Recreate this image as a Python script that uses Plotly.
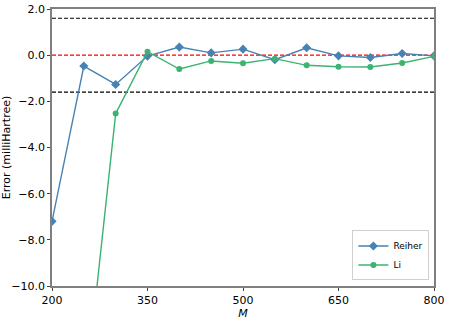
import plotly.graph_objects as go

M = [200, 250, 300, 350, 400, 450, 500, 550, 600, 650, 700, 750, 800]
reiher = [-7.2, -0.47, -1.27, -0.04, 0.35, 0.1, 0.26, -0.2, 0.32, -0.03, -0.1, 0.07, -0.03]
li = [-28.0, -15.3, -2.53, 0.15, -0.6, -0.25, -0.35, -0.15, -0.44, -0.5, -0.51, -0.34, -0.05]

chem_acc = 1.6

fig = go.Figure()

# reference lines
for yv, col in [(chem_acc, "black"), (-chem_acc, "black"), (0, "red")]:
    fig.add_shape(type="line", xref="paper", x0=0, x1=1, y0=yv, y1=yv,
                  line=dict(color=col, width=1.2, dash="4px,2px"), layer="below")

fig.add_trace(go.Scatter(
    x=M, y=reiher, mode="lines+markers", name="Reiher",
    line=dict(color="#4682b4", width=1.4),
    marker=dict(symbol="diamond", size=7, color="#4682b4")
))
fig.add_trace(go.Scatter(
    x=M, y=li, mode="lines+markers", name="Li",
    line=dict(color="#3cb371", width=1.4),
    marker=dict(symbol="circle", size=6, color="#3cb371")
))

axis_common = dict(
    showgrid=False, zeroline=False, showline=True, mirror=True, automargin=False,
    linecolor="#808080", linewidth=1.5, ticks="outside", ticklen=3,
    tickcolor="#404040", tickfont=dict(size=11, color="black"),
)

fig.update_xaxes(range=[200, 800], tickvals=[200, 350, 500, 650, 800],
                 title=dict(text="<i>M</i>", standoff=0, font=dict(size=11)),
                 **axis_common)
fig.update_yaxes(range=[-10, 2], tickvals=[-10, -8, -6, -4, -2, 0, 2], tickformat=".1f",
                 title=dict(text="Error (milliHartree)", standoff=6, font=dict(size=11)),
                 **axis_common)

fig.update_layout(
    width=450, height=320,
    margin=dict(l=52, r=16, t=9, b=34),
    plot_bgcolor="white", paper_bgcolor="white",
    font=dict(family="DejaVu Sans", size=11, color="black"),
    legend=dict(x=0.988, y=0.02, xanchor="right", yanchor="bottom",
                bgcolor="rgba(255,255,255,0.9)", bordercolor="#d0d0d0", borderwidth=1,
                font=dict(size=9), itemwidth=30, tracegroupgap=0),
)

fig.write_html("out.html", config={"displayModeBar": False},
               post_script="document.body.style.margin='0';")
